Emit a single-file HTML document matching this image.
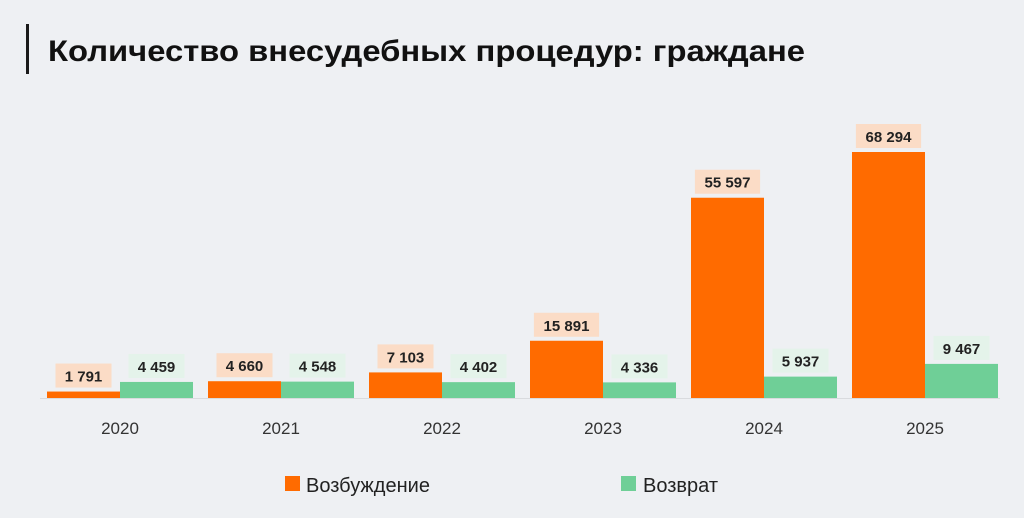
<!DOCTYPE html>
<html><head><meta charset="utf-8"><style>
html,body{margin:0;padding:0;background:#eef0f3;}
svg{display:block;font-family:"Liberation Sans",sans-serif;}
</style></head><body>
<svg id="chart" width="1024" height="518" viewBox="0 0 1024 518">
<rect x="0" y="0" width="1024" height="518" fill="#eef0f3"/>
<rect x="26" y="24" width="3" height="50" fill="#1a1a1a"/>
<text x="48" y="61" font-size="30" font-weight="bold" fill="#111" textLength="757" lengthAdjust="spacingAndGlyphs">Количество внесудебных процедур: граждане</text>
<line x1="40" y1="398.5" x2="1000" y2="398.5" stroke="#d9dbde" stroke-width="1"/>
<g id="bars"></g>
<rect x="285" y="476" width="15" height="15" fill="#ff6b00"/>
<text x="306" y="492" font-size="20" fill="#222">Возбуждение</text>
<rect x="621" y="476" width="15" height="15" fill="#6fcf97"/>
<text x="643" y="492" font-size="20" fill="#222">Возврат</text>
</svg>
<script>
const categories = ["2020","2021","2022","2023","2024","2025"];
const vozbuzhdenie = [1791, 4660, 7103, 15891, 55597, 68294];
const vozvrat = [4459, 4548, 4402, 4336, 5937, 9467];
const NS = "http://www.w3.org/2000/svg";
const g = document.getElementById("bars");
const baseY = 398, scale = 246/68294, x0 = 47, step = 161, bw = 73;
function yScale(v){ return baseY - v*scale; }
function fmt(v){ return String(v).replace(/\B(?=(\d{3})+(?!\d))/g, " "); }
function mk(tag, attrs){ const e=document.createElementNS(NS,tag); for(const k in attrs) e.setAttribute(k,attrs[k]); g.appendChild(e); return e; }
function drawBar(i, v, series, color, lblBg){
  const x = x0 + i*step + (series==="vozvrat"?bw:0);
  const y = yScale(v);
  const r = mk("rect",{x:x,y:y,width:bw,height:baseY-y,fill:color});
  
  
  const t = fmt(v);
  const w = t.length*9.2+10;
  const bg = mk("rect",{x:x+bw/2-w/2,y:y-28,width:w,height:24,fill:lblBg});
  
  
  const tx = mk("text",{x:x+bw/2,y:y-10,"font-size":"15","font-weight":"bold",fill:"#222","text-anchor":"middle"});
  tx.textContent = t;
  
  
}
categories.forEach((c,i)=>{
  drawBar(i, vozbuzhdenie[i], "vozbuzhdenie", "#ff6b00", "#fbdcc6");
  drawBar(i, vozvrat[i], "vozvrat", "#6fcf97", "#e4f3ea");
  const lab = mk("text",{x:x0+i*step+bw,y:434,"font-size":"17",fill:"#333","text-anchor":"middle"});
  lab.textContent = c;
  
  
});
</script>
</body></html>
